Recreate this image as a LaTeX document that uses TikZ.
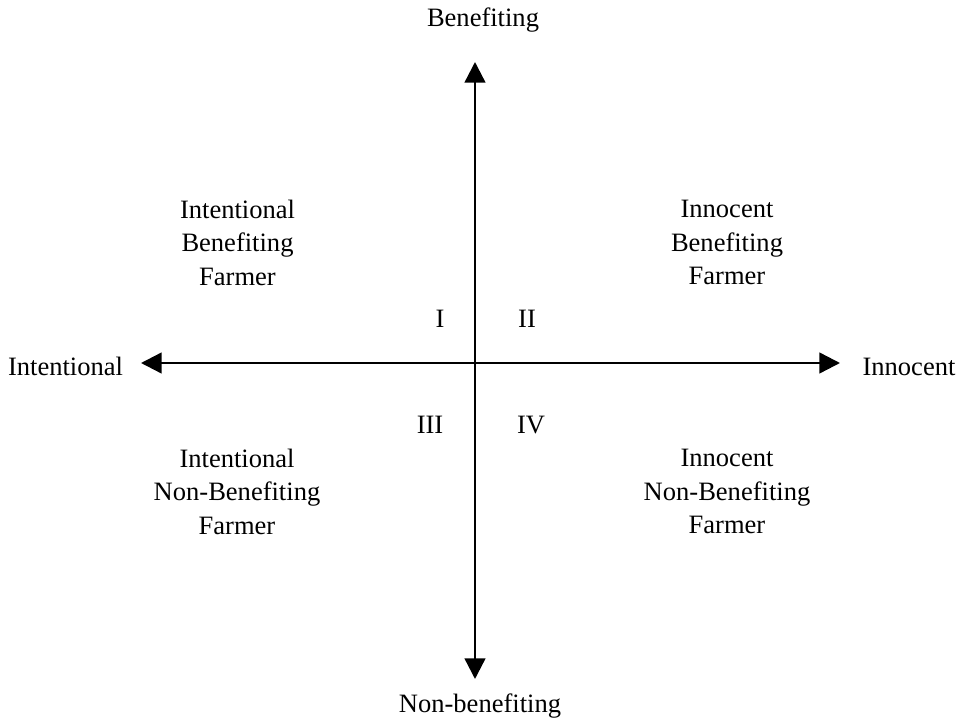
\documentclass[tikz,border=0pt]{standalone}
\usepackage{fontspec}
\setmainfont{Liberation Serif}
\usetikzlibrary{arrows.meta}
\tikzset{
  axis/.style={line width=1.8pt, {Triangle[length=15.5pt,width=15.5pt]}-{Triangle[length=15.5pt,width=15.5pt]}},
  lbl/.style={inner sep=0pt, font=\fontsize{19.9}{25.1}\selectfont},
  blk/.style={lbl, align=center, anchor=center},
  one/.style={lbl, anchor=base}
}
\begin{document}
\begin{tikzpicture}[x=0.75pt,y=-0.75pt]
\useasboundingbox (0,0) rectangle (967,720);
\coordinate (top) at (475,62);
\coordinate (bottom) at (475,679);
\coordinate (left) at (141,363);
\coordinate (right) at (840,363);
\draw[axis] (bottom) -- (top);
\draw[axis] (left) -- (right);
\node[one] (ben) at (483,27) {Benefiting};
\node[one] (nben) at (480,712) {Non-benefiting};
\node[one] (int) at (65.5,375) {Intentional};
\node[one] (inn) at (909,375) {Innocent};
\node[blk] (q1) at (237.5,242.5) {Intentional\\Benefiting\\Farmer};
\node[blk] (q2) at (727,242.5) {Innocent\\Benefiting\\Farmer};
\node[blk] (q3) at (237,491.5) {Intentional\\Non-Benefiting\\Farmer};
\node[blk] (q4) at (727,491.5) {Innocent\\Non-Benefiting\\Farmer};
\node[one] (r1) at (440,327) {I};
\node[one] (r2) at (527,327) {II};
\node[one] (r3) at (430,433) {III};
\node[one] (r4) at (531,433) {IV};
\end{tikzpicture}
\end{document}
